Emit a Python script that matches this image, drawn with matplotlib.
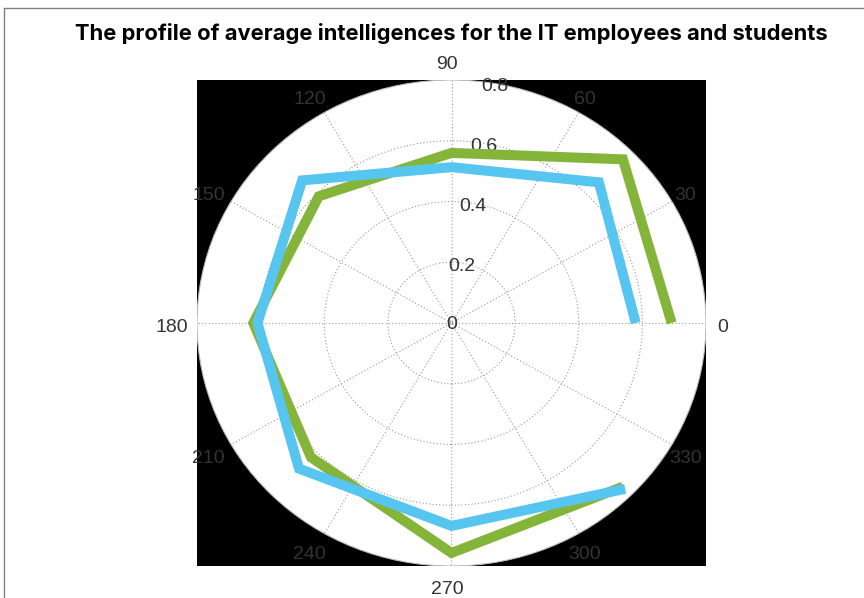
import numpy as np
import matplotlib
matplotlib.use("Agg")
import matplotlib.pyplot as plt
from matplotlib.patches import Circle
from matplotlib.lines import Line2D

# data (angles in degrees, radius in data units)
angles = [0, 45, 90, 135, 180, 225, 270, 315]
employees = [0.692, 0.762, 0.560, 0.590, 0.623, 0.625, 0.757, 0.762]
students = [0.579, 0.655, 0.513, 0.664, 0.610, 0.678, 0.668, 0.772]
ring_values = [0.2, 0.4, 0.6, 0.8]
spoke_labels = ["0", "30", "60", "90", "120", "150", "180", "210", "240", "270", "300", "330"]

RMAX = 0.8
GREEN = "#84B53A"
BLUE = "#56C5EF"
GRID = "#9a9a9a"
TXT = "#333333"
FONT = ["Liberation Sans", "DejaVu Sans"]


def to_xy(theta_deg, r):
    t = np.deg2rad(np.asarray(theta_deg, dtype=float))
    r = np.asarray(r, dtype=float)
    return r * np.cos(t), r * np.sin(t)


W, H = 864, 598
fig = plt.figure(figsize=(W / 100, H / 100), dpi=100)
fig.patch.set_facecolor("white")

# axes box: black background, polar disc stretched to fill it (like MATLAB polar)
ax = fig.add_axes([197 / W, (H - 566) / H, (706 - 197) / W, (566 - 80) / H])
ax.set_facecolor("black")
ax.set_xlim(-RMAX, RMAX)
ax.set_ylim(-RMAX, RMAX)
ax.set_aspect("auto")
ax.set_xticks([])
ax.set_yticks([])
for s in ax.spines.values():
    s.set_visible(False)

ax.add_patch(Circle((0, 0), RMAX, facecolor="white", edgecolor="#bdbdbd", lw=0.8, zorder=1))

# rings
for rv in ring_values[:-1]:
    ax.add_patch(Circle((0, 0), rv, fill=False, edgecolor=GRID, lw=0.8,
                        linestyle=(0, (1, 2)), zorder=2))

# spokes every 30 degrees
for a in range(0, 180, 30):
    x, y = to_xy([a, a + 180], [RMAX, RMAX])
    ax.plot(x, y, color=GRID, lw=0.8, linestyle=(0, (1, 2)), zorder=2)

# ring labels along the 80 degree direction, plus 0 at the centre
ax.text(0, -0.005, "0", ha="center", va="center", fontsize=14, color=TXT, family=FONT, zorder=3)
for rv in ring_values:
    x, y = to_xy(80, rv - 0.01)
    ax.text(x, y, f"{rv:g}", ha="center", va="center", fontsize=14,
            color=TXT, family=FONT, zorder=3)

# angle labels (slightly shifted left/down like the original)
for i, lab in enumerate(spoke_labels):
    x, y = to_xy(i * 30, 0.865)
    ax.text(x - 0.014, y - 0.014, lab, ha="center", va="center", fontsize=14, color=TXT,
            family=FONT, clip_on=False)

# the two profiles
gx, gy = to_xy(angles, employees)
bx, by = to_xy(angles, students)
ax.plot(gx, gy, color=GREEN, lw=7.2, solid_joinstyle="miter", solid_capstyle="butt", zorder=4)
ax.plot(bx, by, color=BLUE, lw=7.2, solid_joinstyle="miter", solid_capstyle="butt", zorder=5)

fig.text(0.5225, 1 - 33 / H, "The profile of average intelligences for the IT employees and students",
         ha="center", va="center", fontsize=15.8, fontweight="bold", color="black",
         family=["Inter", "DejaVu Sans"])

# thin frame on top and left edges of the image
fig.add_artist(Line2D([4 / W, 1], [1 - 8 / H, 1 - 8 / H], color="#808080", lw=1, transform=fig.transFigure))
fig.add_artist(Line2D([4 / W, 4 / W], [0, 1 - 8 / H], color="#808080", lw=1, transform=fig.transFigure))

fig.savefig("out.png", dpi=100)
